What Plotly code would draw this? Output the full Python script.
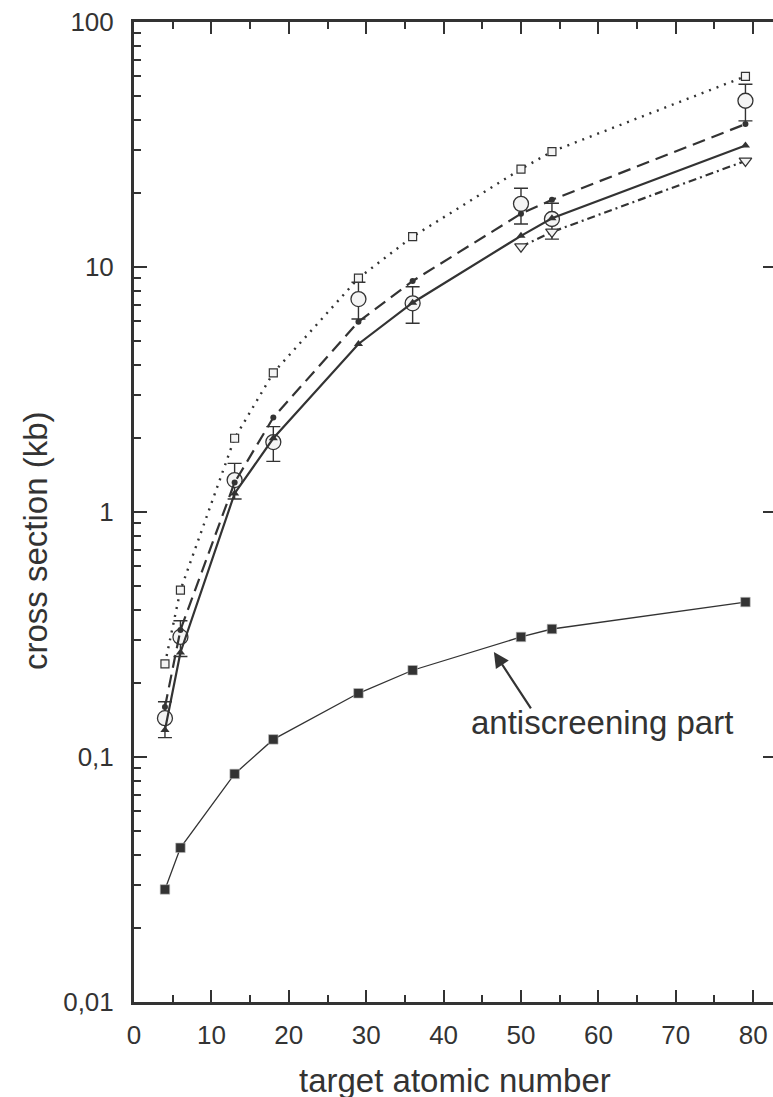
import plotly.graph_objects as go

# Target atomic numbers (Be, C, Al, Ar, Cu, Kr, Sn, Xe, Au)
z = [4, 6, 13, 18, 29, 36, 50, 54, 79]
z_heavy = [50, 54, 79]

# Calculated cross sections (kb)
calc_dotted = [0.24, 0.48, 2.0, 3.7, 9.0, 13.3, 25.1, 29.6, 60.0]
calc_dashed = [0.16, 0.33, 1.32, 2.43, 5.98, 8.77, 16.5, 18.8, 38.3]
calc_solid = [0.129, 0.267, 1.19, 2.0, 4.85, 7.15, 13.4, 15.8, 31.3]
calc_dashdot = [12.1, 13.9, 27.1]

# Measured cross sections with asymmetric uncertainties (kb)
exp_val = [0.144, 0.309, 1.35, 1.93, 7.4, 7.11, 18.1, 15.7, 47.7]
exp_hi = [0.168, 0.36, 1.58, 2.23, 8.66, 8.31, 20.95, 18.2, 55.7]
exp_lo = [0.12, 0.257, 1.13, 1.61, 6.13, 5.89, 14.98, 13.0, 39.5]

# Antiscreening contribution (kb)
antiscreening = [0.0288, 0.0426, 0.0853, 0.118, 0.182, 0.226, 0.309, 0.333, 0.429]

x_ticks = list(range(0, 90, 10))
y_ticks = [0.01, 0.1, 1, 10, 100]
y_tick_text = ["0,01", "0,1", "1", "10", "100"]
y_minor = [m * 10 ** e for e in range(-2, 2) for m in range(2, 10)]

INK = "#333333"
FILL = "#f4f4f4"
FONT = "Liberation Sans, Arial, sans-serif"

W, H = 773, 1097
ML, MR, MT, MB = 134, 0, 22, 95
X_MAX = 82.56


def px_x(p):
    return (p - ML) / (W - ML - MR)


def px_y(p):
    return (H - MB - p) / (H - MT - MB)


fig = go.Figure()

# Measurements: open circles with error bars (drawn first, curves over them)
fig.add_trace(go.Scatter(
    x=z, y=exp_val, mode="markers",
    marker=dict(symbol="circle", size=15, color=FILL,
                line=dict(color=INK, width=1.3)),
    error_y=dict(type="data", symmetric=False,
                 array=[h - v for h, v in zip(exp_hi, exp_val)],
                 arrayminus=[v - l for v, l in zip(exp_val, exp_lo)],
                 color=INK, thickness=1.4, width=7),
    showlegend=False, hoverinfo="skip",
))

fig.add_trace(go.Scatter(
    x=z, y=calc_dotted, mode="lines+markers",
    line=dict(color=INK, width=2.4, dash="2px,6px"),
    marker=dict(symbol="square", size=8, color=FILL,
                line=dict(color=INK, width=1.2)),
    showlegend=False,
))

fig.add_trace(go.Scatter(
    x=z, y=calc_dashed, mode="lines+markers",
    line=dict(color=INK, width=2.2, dash="13px,7px"),
    marker=dict(symbol="circle", size=6, color=INK),
    showlegend=False,
))

fig.add_trace(go.Scatter(
    x=z, y=calc_solid, mode="lines+markers",
    line=dict(color=INK, width=2.2),
    marker=dict(symbol="triangle-up", size=8, color=INK),
    showlegend=False,
))

fig.add_trace(go.Scatter(
    x=z_heavy, y=calc_dashdot, mode="lines+markers",
    line=dict(color=INK, width=2.2, dash="8px,4px,2px,4px"),
    marker=dict(symbol="triangle-down", size=11, color=FILL,
                line=dict(color=INK, width=1.2)),
    showlegend=False,
))

fig.add_trace(go.Scatter(
    x=z, y=antiscreening, mode="lines+markers",
    line=dict(color=INK, width=1.3),
    marker=dict(symbol="square", size=9.5, color=INK,
                line=dict(color="#bbbbbb", width=0.6)),
    showlegend=False,
))

# Carrier trace for the right-hand tick axis
fig.add_trace(go.Scatter(
    x=z, y=antiscreening, yaxis="y2", mode="lines",
    line=dict(width=0), opacity=0, showlegend=False, hoverinfo="skip",
))

tick_font = dict(family=FONT, size=26, color=INK)

fig.update_layout(
    width=W, height=H,
    margin=dict(l=ML, r=MR, t=MT, b=MB, pad=0),
    paper_bgcolor="white", plot_bgcolor="white",
    showlegend=False,
    xaxis=dict(
        range=[0, X_MAX], tickvals=x_ticks, ticks="inside",
        ticklen=12, tickwidth=2.2, tickcolor=INK,
        showline=True, linewidth=3, linecolor=INK, mirror="ticks",
        showgrid=False, zeroline=False,
        tickfont=tick_font, ticklabelstandoff=8,
        minor=dict(dtick=5, tick0=0, ticks="inside", ticklen=7,
                   tickwidth=2.2, tickcolor=INK, showgrid=False),
    ),
    yaxis=dict(
        type="log", range=[-2, 2], tickvals=y_ticks, ticktext=y_tick_text,
        ticks="inside", ticklen=13, tickwidth=2.2, tickcolor=INK,
        showline=True, linewidth=3, linecolor=INK,
        showgrid=False, zeroline=False,
        tickfont=tick_font, ticklabelstandoff=12,
        minor=dict(tickvals=y_minor, ticks="inside", ticklen=7,
                   tickwidth=2.2, tickcolor=INK, showgrid=False),
    ),
    yaxis2=dict(
        type="log", range=[-2, 2], overlaying="y", side="right", anchor="x",
        tickvals=y_ticks, ticks="inside", ticklen=10, tickwidth=2.2,
        tickcolor=INK, showticklabels=False, showline=False,
        showgrid=False, zeroline=False,
    ),
)

title_font = dict(family=FONT, size=33, color=INK)

fig.add_annotation(
    text="cross section (kb)", textangle=-90, showarrow=False,
    xref="paper", yref="paper", x=px_x(35), y=px_y(541),
    xanchor="center", yanchor="middle", font=title_font,
)
fig.add_annotation(
    text="target atomic number", showarrow=False,
    xref="paper", yref="paper", x=px_x(455), y=px_y(1080),
    xanchor="center", yanchor="middle", font=title_font,
)
fig.add_annotation(
    text="antiscreening part", showarrow=False,
    xref="paper", yref="paper", x=px_x(469), y=px_y(722),
    xanchor="left", yanchor="middle", font=title_font,
)
fig.add_annotation(
    text="", x=46.5, y=-0.571, xref="x", yref="y",
    showarrow=True, ax=38, ay=58, axref="pixel", ayref="pixel",
    arrowhead=2, arrowsize=1.4, arrowwidth=2.2, arrowcolor=INK,
    standoff=0,
)

fig.write_html("out.html")
